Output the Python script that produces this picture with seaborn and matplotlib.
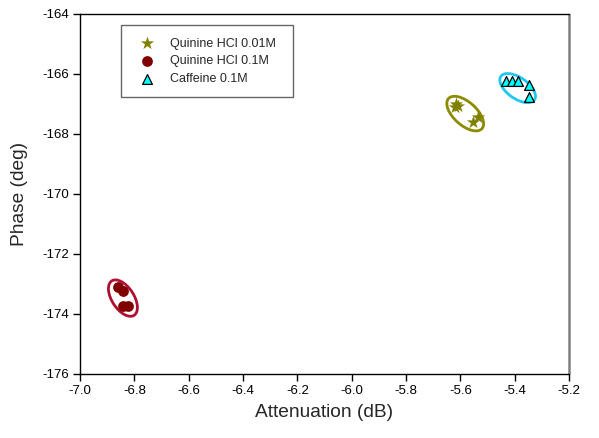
import numpy as np
import pandas as pd
import matplotlib
matplotlib.use("Agg")
import matplotlib.pyplot as plt
import matplotlib.transforms as mtransforms
from matplotlib.patches import Ellipse
import seaborn as sns

# ---- data ----
q001_x = [-5.615, -5.618, -5.610, -5.553, -5.534]
q001_y = [-167.00, -167.10, -167.07, -167.59, -167.44]
q01_x = [-6.859, -6.843, -6.840, -6.822]
q01_y = [-173.11, -173.22, -173.72, -173.74]
caf_x = [-5.431, -5.410, -5.388, -5.349, -5.349]
caf_y = [-166.22, -166.23, -166.23, -166.38, -166.75]
labels = ["Quinine HCl 0.01M", "Quinine HCl 0.1M", "Caffeine 0.1M"]
x_ticks = [-7.0, -6.8, -6.6, -6.4, -6.2, -6.0, -5.8, -5.6, -5.4, -5.2]
y_ticks = [-176, -174, -172, -170, -168, -166, -164]
# cluster ellipse centres (data units)
ell_cx = [-5.582, -6.842, -5.389]
ell_cy = [-167.32, -173.47, -166.47]

df = pd.DataFrame({
    "x": q001_x + q01_x + caf_x,
    "y": q001_y + q01_y + caf_y,
    "s": [labels[0]] * len(q001_x) + [labels[1]] * len(q01_x) + [labels[2]] * len(caf_x),
})

sns.set_style("white")
plt.rcParams["font.family"] = ["Liberation Sans", "DejaVu Sans"]

fig = plt.figure(figsize=(5.99, 4.38), dpi=100)
ax = fig.add_axes([80 / 599, 1 - 374 / 438, 489 / 599, 360 / 438])

pal = {labels[0]: "#808000", labels[1]: "#800000", labels[2]: "#00FFFF"}
mk = {labels[0]: "*", labels[1]: "o", labels[2]: "^"}
sizes = {labels[0]: 100, labels[1]: 60, labels[2]: 50}
for lab in labels:
    sub = df[df.s == lab]
    ec = "black" if lab == labels[2] else pal[lab]
    sns.scatterplot(data=sub, x="x", y="y", ax=ax, color=pal[lab], marker=mk[lab],
                    s=sizes[lab], edgecolor=ec, linewidth=0.9 if lab == labels[2] else 0,
                    label=lab, zorder=3)

# cluster ellipses (size in pixels, positioned at data centres)
ell_style = [((22.5, 11.5, -42), "#8B8B00"), ((20.5, 11, -57), "#B01030"), ((20.5, 10.5, -35), "#1EC8F0")]
for (a, b, ang), col, cx, cy in zip([e[0] for e in ell_style], [e[1] for e in ell_style], ell_cx, ell_cy):
    tr = fig.dpi_scale_trans + mtransforms.ScaledTranslation(cx, cy, ax.transData)
    e = Ellipse((0, 0), 2 * a / 100, 2 * b / 100, angle=ang, transform=tr,
                fill=False, edgecolor=col, linewidth=2, zorder=2)
    ax.add_patch(e)

ax.set_xlim(-7.0, -5.2)
ax.set_ylim(-176, -164)
ax.set_xticks(x_ticks)
ax.set_xticklabels([f"{v:.1f}" for v in x_ticks])
ax.set_yticks(y_ticks)
ax.set_yticklabels([str(v) for v in y_ticks])
ax.tick_params(axis="both", which="major", direction="out", length=5, width=1,
               labelsize=9.5, color="black", labelcolor="black", pad=3)
ax.tick_params(top=False, right=False, left=True, bottom=True)

for side in ["left", "bottom", "top"]:
    ax.spines[side].set_color("black")
    ax.spines[side].set_linewidth(1)
ax.spines["right"].set_color("#808080")
ax.spines["right"].set_linewidth(1.8)
ax.spines["right"].set_capstyle("butt")

ax.set_xlabel("Attenuation (dB)", fontsize=13.8, labelpad=5)
ax.set_ylabel("Phase (deg)", fontsize=13.8, labelpad=10)

lw_ax = 172 / 489
lh_ax = 72 / 360
leg = ax.legend(loc="upper left", bbox_to_anchor=(0.084, 0.969 - lh_ax, lw_ax, lh_ax),
                mode="expand", borderaxespad=0,
                fontsize=9, frameon=True, fancybox=False, handletextpad=0.8,
                borderpad=1.0, labelspacing=0.45, handlelength=2.1)
leg.get_frame().set_edgecolor("#404040")
leg.get_frame().set_linewidth(1)

fig.savefig("out.png", dpi=100)
